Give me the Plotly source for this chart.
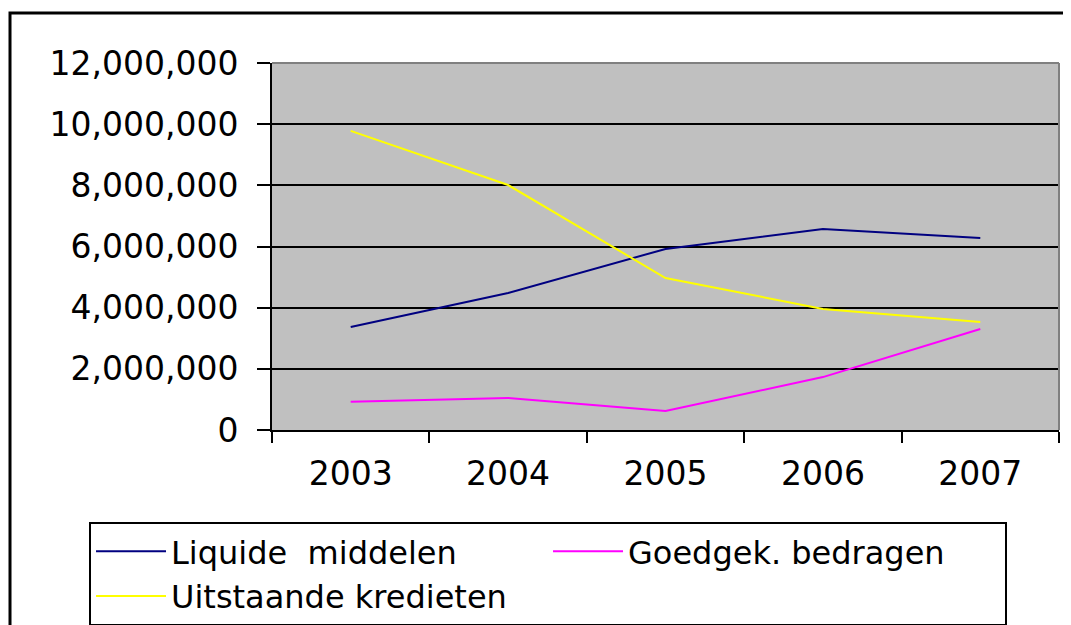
import plotly.graph_objects as go

# Kleuren (Excel-stijl)
navy = "#000080"
magenta = "#FF00FF"
geel = "#FFFF00"
grijs = "#C0C0C0"

jaren = ["2003", "2004", "2005", "2006", "2007"]
liquide_middelen = [3370000, 4480000, 5920000, 6570000, 6280000]
goedgek_bedragen = [920000, 1050000, 620000, 1730000, 3300000]
uitstaande_kredieten = [9780000, 8010000, 4970000, 3960000, 3530000]

font = "DejaVu Sans, Arial, sans-serif"

fig = go.Figure()
fig.add_trace(go.Scatter(x=jaren, y=liquide_middelen, mode="lines",
                         name="Liquide\u00a0\u00a0middelen", line=dict(color=navy, width=2)))
fig.add_trace(go.Scatter(x=jaren, y=goedgek_bedragen, mode="lines",
                         name="Goedgek. bedragen", line=dict(color=magenta, width=2)))
fig.add_trace(go.Scatter(x=jaren, y=uitstaande_kredieten, mode="lines",
                         name="Uitstaande kredieten", line=dict(color=geel, width=2)))

# de pagina heeft 8px body-marge, daarom 8px kleiner dan het venster
fig.update_layout(
    width=1063,
    height=617,
    margin=dict(l=264, r=12, t=55, b=195, autoexpand=False),
    paper_bgcolor="white",
    plot_bgcolor=grijs,
    font=dict(family=font, size=33, color="black"),
    legend=dict(
        orientation="h",
        x=-0.2325, xanchor="left",
        y=-0.2507, yanchor="top",
        bordercolor="black", borderwidth=2,
        bgcolor="white",
        font=dict(size=32),
        itemwidth=70,
        entrywidth=372, entrywidthmode="pixels",
    ),
)

fig.update_xaxes(
    type="category",
    range=[-0.5, 4.5],
    tickson="boundaries",
    ticks="outside", ticklen=11, tickwidth=2, tickcolor="black",
    showline=True, linecolor="black", linewidth=2,
    showgrid=False,
    ticklabelstandoff=13,
)
fig.update_yaxes(
    range=[0, 12000000],
    dtick=2000000,
    tickformat=",d",
    ticks="outside", ticklen=13, tickwidth=2, tickcolor="black",
    showline=True, linecolor="black", linewidth=2,
    gridcolor="black", gridwidth=2,
    zeroline=False,
    ticklabelstandoff=12,
)

# grijze rand boven en rechts van het plotvlak
fig.add_shape(type="line", xref="paper", yref="paper", x0=0, x1=1, y0=1, y1=1,
              line=dict(color="#808080", width=2))
fig.add_shape(type="line", xref="paper", yref="paper", x0=1, x1=1, y0=0, y1=1,
              line=dict(color="#808080", width=2))

# buitenrand van de grafiek
fig.add_shape(type="rect", xref="paper", yref="paper",
              x0=-0.3329, x1=1.05, y0=-1.0, y1=1.1362,
              line=dict(color="black", width=3), layer="below")

fig.write_html("out.html")
